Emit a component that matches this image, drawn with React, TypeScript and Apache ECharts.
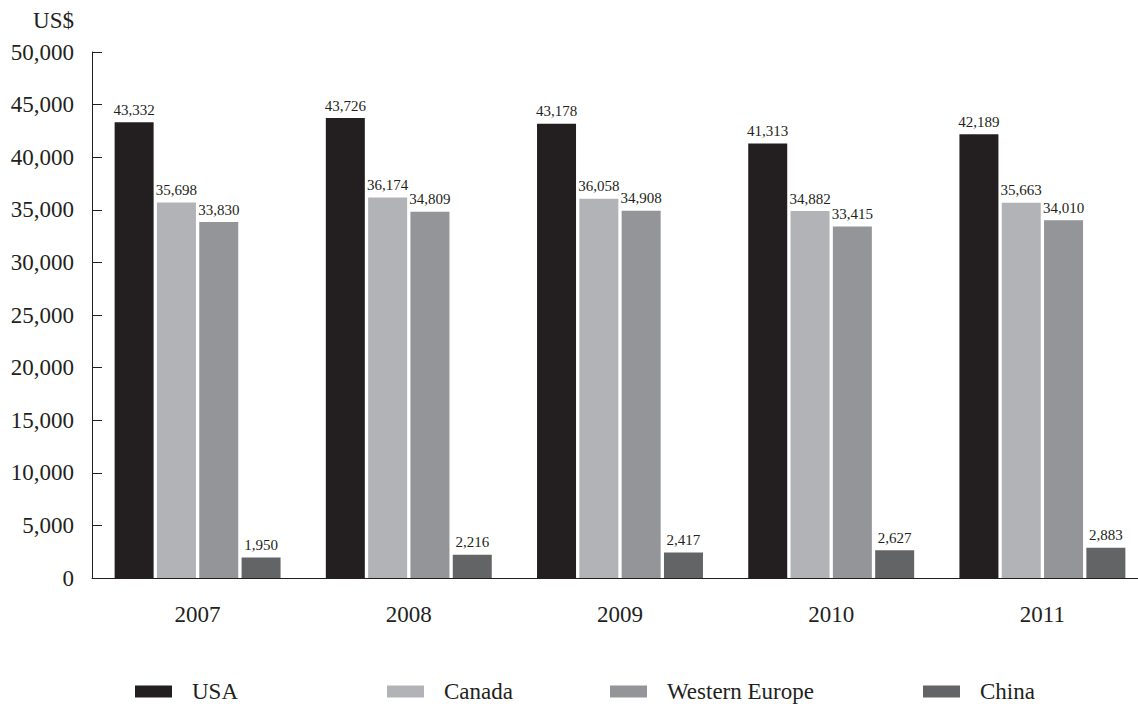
import React, { useEffect, useRef } from "react";
import * as echarts from "echarts";

const years = ["2007", "2008", "2009", "2010", "2011"];
const usa = [43332, 43726, 43178, 41313, 42189];
const canada = [35698, 36174, 36058, 34882, 35663];
const westernEurope = [33830, 34809, 34908, 33415, 34010];
const china = [1950, 2216, 2417, 2627, 2883];

const seriesNames = ["USA", "Canada", "Western Europe", "China"];
const seriesColors = ["#231f20", "#b2b3b6", "#939598", "#636466"];
const legendLefts = [135, 387, 610, 923];

const FONT = "'Liberation Serif', 'Times New Roman', serif";
const INK = "#231f20";

const fmt = (v: number) => v.toLocaleString("en-US");

export default function App() {
  const ref = useRef<HTMLDivElement>(null);

  useEffect(() => {
    if (!ref.current) return;
    const chart = echarts.init(ref.current, null, { renderer: "svg" });
    const values = [usa, canada, westernEurope, china];

    chart.setOption({
      animation: false,
      backgroundColor: "#ffffff",
      textStyle: { fontFamily: FONT, color: INK },
      // the plot runs slightly past the right edge, so the last group sits near the border
      grid: {
        left: 92,
        width: 1056,
        top: 52,
        bottom: 126,
        containLabel: false,
        outerBoundsMode: "none",
      },
      legend: seriesNames.map((name, i) => ({
        data: [name],
        left: legendLefts[i],
        top: 680,
        padding: 0,
        itemWidth: 37,
        itemHeight: 12,
        icon: "rect",
        textStyle: { fontFamily: FONT, fontSize: 23, color: INK, padding: [0, 0, 0, 15] },
      })),
      graphic: [
        {
          type: "text",
          x: 74,
          y: 20,
          style: {
            text: "US$",
            font: `23px ${FONT}`,
            fill: INK,
            textAlign: "right",
            textVerticalAlign: "middle",
          },
        },
      ],
      xAxis: {
        type: "category",
        data: years,
        axisLine: { lineStyle: { color: INK, width: 1 } },
        axisTick: { show: false },
        axisLabel: { fontFamily: FONT, fontSize: 23, color: INK, margin: 25 },
      },
      yAxis: {
        type: "value",
        min: 0,
        max: 50000,
        interval: 5000,
        axisLine: { show: true, lineStyle: { color: INK, width: 1 } },
        axisTick: { show: true, inside: true, length: 10, lineStyle: { color: INK } },
        splitLine: { show: false },
        axisLabel: {
          fontFamily: FONT,
          fontSize: 23,
          color: INK,
          margin: 18,
          formatter: (v: number) => fmt(v),
        },
      },
      series: seriesNames.map((name, i) => ({
        name,
        type: "bar",
        data: values[i],
        barWidth: 39,
        barGap: "8.5%",
        itemStyle: { color: seriesColors[i] },
        label: {
          show: true,
          position: "top",
          distance: 5,
          fontFamily: FONT,
          fontSize: 15,
          color: INK,
          formatter: (p: any) => fmt(p.value),
        },
      })),
    });

    return () => chart.dispose();
  }, []);

  return <div ref={ref} style={{ width: 1138, height: 704, position: "absolute", left: 0, top: 0 }} />;
}
